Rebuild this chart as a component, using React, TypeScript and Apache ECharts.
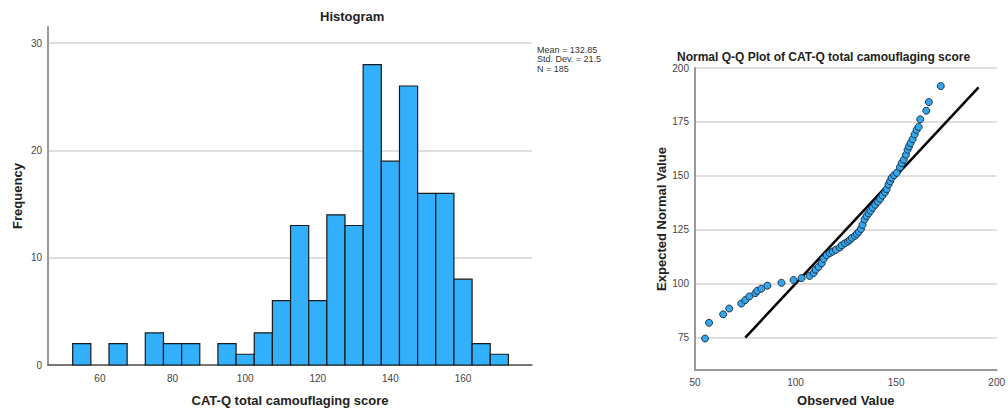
import React, { useEffect, useRef } from "react";
import * as echarts from "echarts";

// Histogram data (bin centers, width 5)
const binCenters = [55, 60, 65, 70, 75, 80, 85, 90, 95, 100, 105, 110, 115, 120, 125, 130, 135, 140, 145, 150, 155, 160, 165, 170];
const binCounts = [2, 0, 2, 0, 3, 2, 2, 0, 2, 1, 3, 6, 13, 6, 14, 13, 28, 19, 26, 16, 16, 8, 2, 1];
const binWidth = 5;
const histXTicks = [60, 80, 100, 120, 140, 160];
const histYTicks = [0, 10, 20, 30];
const statLines = ["Mean = 132.85", "Std. Dev. = 21.5", "N = 185"];

// Q-Q plot data: [observed, expected normal]
const qqObserved = [55, 57, 64, 67, 73, 75, 77, 80, 81, 83, 86, 93, 99, 103, 107, 109, 110, 111.5, 113, 114, 115.5, 117, 118.5, 120, 122, 123, 124.5, 126, 127, 128, 129.5, 130.5, 131.5, 132.5, 133.3, 134.3, 135.3, 136.3, 137.3, 138.3, 139.6, 140.9, 142.1, 143.2, 144.5, 145.3, 146.2, 147, 147.8, 149, 150.3, 151.9, 152.8, 153.8, 154.9, 155.7, 156.4, 157.2, 158.2, 159.2, 160.2, 161.2, 162, 165, 166.3, 172.2];
const qqExpected = [74.6, 81.9, 85.8, 88.5, 90.8, 92.4, 94.1, 95.6, 96.7, 97.7, 99.1, 100.4, 101.7, 102.6, 103.6, 105, 106.5, 107.8, 109.5, 111.5, 113.2, 114.2, 114.9, 115.7, 116.8, 117.8, 118.7, 119.5, 120.3, 121.2, 122.2, 123.1, 124.1, 125.4, 127.3, 129.8, 131.4, 132.6, 133.8, 135.2, 136.6, 138, 139.4, 140.9, 142.4, 143.8, 146, 147.5, 149.1, 150.3, 151.4, 154, 155.9, 157.5, 159.8, 162.1, 163.6, 165.2, 167, 169.2, 171.3, 172.7, 176.2, 180.2, 184.2, 191.6];
const qqLine = [[75, 75], [191, 191]];
const qqXTicks = [50, 100, 150, 200];
const qqYTicks = [75, 100, 125, 150, 175, 200];

const FONT = "'Liberation Sans', Arial, sans-serif";

export default function App() {
  const ref = useRef<HTMLDivElement>(null);
  useEffect(() => {
    document.body.style.margin = "0";
    const chart = echarts.init(ref.current!, null, { renderer: "svg" });
    const histData = binCenters
      .map((c, i) => [c, binCounts[i]])
      .filter((d) => d[1] > 0);
    const qqData = qqObserved.map((x, i) => [x, qqExpected[i]]);
    const labelStyle = { fontSize: 10, color: "#444", fontFamily: FONT };
    const nameStyle = { fontSize: 13, fontWeight: "bold", color: "#222", fontFamily: FONT };
    chart.setOption({
      animation: false,
      backgroundColor: "#fff",
      title: [
        {
          text: "Histogram",
          left: 320,
          top: 10,
          padding: 0,
          textStyle: { fontSize: 13, fontWeight: "bold", color: "#222", fontFamily: FONT },
        },
        {
          text: "Normal Q-Q Plot of CAT-Q total camouflaging score",
          left: 677,
          top: 51,
          padding: 0,
          textStyle: { fontSize: 12, fontWeight: "bold", color: "#222", fontFamily: FONT },
        },
      ],
      graphic: [
        {
          type: "text",
          left: 537,
          top: 45,
          style: {
            text: statLines.join("\n"),
            fontSize: 9,
            lineHeight: 9.5,
            fill: "#333",
            fontFamily: FONT,
          },
        },
      ],
      grid: [
        { left: 48, right: 476, top: 27, bottom: 47 },
        { left: 695, right: 9, top: 68, bottom: 40 },
      ],
      xAxis: [
        {
          gridIndex: 0,
          type: "value",
          min: 45.7,
          max: 179,
          name: "CAT-Q total camouflaging score",
          nameLocation: "middle",
          nameGap: 29,
          nameTextStyle: nameStyle,
          axisLine: { show: true, lineStyle: { color: "#555", width: 1.5 } },
          axisTick: { show: false, customValues: histXTicks },
          axisLabel: { ...labelStyle, customValues: histXTicks, margin: 8 },
          splitLine: { show: false },
        },
        {
          gridIndex: 1,
          type: "value",
          min: 50,
          max: 200,
          interval: 50,
          name: "Observed Value",
          nameLocation: "middle",
          nameGap: 24,
          nameTextStyle: nameStyle,
          axisLine: { show: true, lineStyle: { color: "#999", width: 2 } },
          axisTick: { show: false },
          axisLabel: { ...labelStyle, margin: 7 },
          splitLine: { show: false },
        },
      ],
      yAxis: [
        {
          gridIndex: 0,
          type: "value",
          min: 0,
          max: 31.5,
          name: "Frequency",
          nameLocation: "middle",
          nameGap: 24,
          nameTextStyle: nameStyle,
          axisLine: { show: true, lineStyle: { color: "#999", width: 2 } },
          axisTick: { show: false, customValues: histYTicks },
          axisLabel: { ...labelStyle, customValues: histYTicks, margin: 6 },
          splitLine: { show: true, lineStyle: { color: "#d4d4d4", width: 1.5 } },
        },
        {
          gridIndex: 1,
          type: "value",
          min: 60,
          max: 200,
          name: "Expected Normal Value",
          nameLocation: "middle",
          nameGap: 27,
          nameTextStyle: nameStyle,
          axisLine: { show: true, lineStyle: { color: "#999", width: 2 } },
          axisTick: { show: false, customValues: qqYTicks },
          axisLabel: { ...labelStyle, customValues: qqYTicks, margin: 6 },
          splitLine: { show: true, lineStyle: { color: "#d4d4d4", width: 1.5 } },
        },
      ],
      series: [
        {
          type: "custom",
          xAxisIndex: 0,
          yAxisIndex: 0,
          data: histData,
          encode: { x: 0, y: 1 },
          z: 3,
          renderItem: (params: any, api: any) => {
            const c = api.value(0);
            const n = api.value(1);
            const p0 = api.coord([c - binWidth / 2, n]);
            const p1 = api.coord([c + binWidth / 2, 0]);
            return {
              type: "rect",
              shape: { x: p0[0], y: p0[1], width: p1[0] - p0[0], height: p1[1] - p0[1] },
              style: { fill: "#33b0fb", stroke: "#1a1a1a", lineWidth: 1.2 },
            };
          },
        },
        {
          type: "line",
          xAxisIndex: 1,
          yAxisIndex: 1,
          data: qqLine,
          symbol: "none",
          lineStyle: { color: "#000", width: 2.5 },
          z: 2,
        },
        {
          type: "scatter",
          xAxisIndex: 1,
          yAxisIndex: 1,
          data: qqData,
          symbol: "circle",
          symbolSize: 7,
          itemStyle: { color: "#34a6ea", borderColor: "#1d3550", borderWidth: 1, opacity: 1 },
          z: 3,
        },
      ],
    });
    return () => chart.dispose();
  }, []);
  return <div ref={ref} style={{ width: 1008, height: 412 }} />;
}
